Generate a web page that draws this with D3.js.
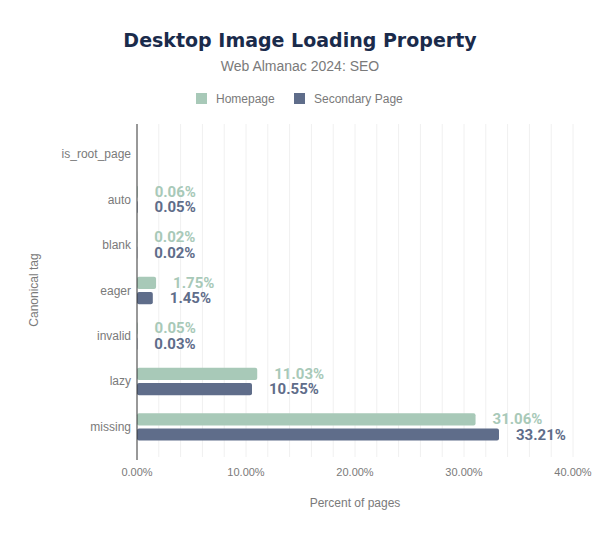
<!DOCTYPE html>
<html>
<head>
<meta charset="utf-8">
<script src="https://cdn.jsdelivr.net/npm/d3@7"></script>
<style>
    body { margin: 0; background: #fff; }
    text { font-family: "Liberation Sans", Arial, sans-serif; }
</style>
</head>
<body>
<div id="chart"></div>
<script>
const categories = ['is_root_page', 'auto', 'blank', 'eager', 'invalid', 'lazy', 'missing'];
const series = ['Homepage', 'Secondary Page'];
const homepage = [0, 0.06, 0.02, 1.75, 0.05, 11.03, 31.06];
const secondary = [0, 0.05, 0.02, 1.45, 0.03, 10.55, 33.21];
const xTicks = [0, 10, 20, 30, 40];
const colors = ['#a8c9b8', '#5f6d8a'];

function createChart() {
    const width = 600;
    const height = 538;

    const svg = d3.select('#chart')
        .append('svg')
        .attr('width', width)
        .attr('height', height);

    // Title and subtitle
    svg.append('text')
        .attr('x', 300).attr('y', 47)
        .attr('text-anchor', 'middle')
        .style('font-family', '"DejaVu Sans", sans-serif')
        .style('font-weight', 'bold')
        .style('font-size', '19px')
        .attr('fill', '#1a2b4b')
        .text('Desktop Image Loading Property');

    svg.append('text')
        .attr('x', 300).attr('y', 71)
        .attr('text-anchor', 'middle')
        .style('font-size', '14px')
        .attr('fill', '#7a7a7a')
        .text('Web Almanac 2024: SEO');

    // Legend
    const legend = svg.append('g');
    const legendX = [196, 294];
    series.forEach((s, i) => {
        legend.append('rect')
            .attr('x', legendX[i]).attr('y', 93)
            .attr('width', 11).attr('height', 11)
            .attr('fill', colors[i]);
        legend.append('text')
            .attr('x', legendX[i] + 20).attr('y', 103)
            .style('font-size', '12px')
            .attr('fill', '#7a7a7a')
            .text(s);
    });

    // Scales
    const x = d3.scaleLinear().domain([0, 40]).range([137, 573]);
    const y = d3.scaleBand().domain(categories).range([124, 457])
        .paddingInner(0.4).paddingOuter(0.36);
    const y1 = d3.scaleBand().domain(series).range([0, y.bandwidth()]).paddingInner(0.2);

    // Grid lines every 2%
    svg.append('g')
        .selectAll('line')
        .data(d3.range(2, 41, 2))
        .join('line')
        .attr('x1', d => x(d)).attr('x2', d => x(d))
        .attr('y1', 124).attr('y2', 457)
        .attr('stroke', '#f0f0f0')
        .attr('stroke-width', 1);

    // X axis labels
    svg.append('g')
        .selectAll('text')
        .data(xTicks)
        .join('text')
        .attr('x', d => x(d)).attr('y', 476)
        .attr('text-anchor', 'middle')
        .style('font-size', '11px')
        .attr('fill', '#7a7a7a')
        .text(d => d.toFixed(2) + '%');

    svg.append('text')
        .attr('x', 355).attr('y', 507)
        .attr('text-anchor', 'middle')
        .style('font-size', '12px')
        .attr('fill', '#7a7a7a')
        .text('Percent of pages');

    // Y labels
    svg.append('g')
        .selectAll('text')
        .data(categories)
        .join('text')
        .attr('x', 131)
        .attr('y', d => y(d) + y.bandwidth() / 2 + 4)
        .attr('text-anchor', 'end')
        .style('font-size', '12px')
        .attr('fill', '#7a7a7a')
        .text(d => d);

    svg.append('text')
        .attr('transform', 'translate(38,290) rotate(-90)')
        .attr('text-anchor', 'middle')
        .style('font-size', '12px')
        .attr('fill', '#7a7a7a')
        .text('Canonical tag');

    // Bars
    const rows = categories.map((c, i) => ({ cat: c, values: [homepage[i], secondary[i]] }));

    const groups = svg.append('g')
        .selectAll('g')
        .data(rows)
        .join('g')
        .attr('transform', d => `translate(0,${y(d.cat)})`);

    groups.selectAll('rect')
        .data(d => d.values.map((v, i) => ({ v, i })))
        .join('rect')
        .attr('x', x(0))
        .attr('y', d => y1(series[d.i]))
        .attr('width', d => x(d.v) - x(0))
        .attr('height', y1.bandwidth())
        .attr('rx', 2)
        .attr('fill', d => colors[d.i]);

    groups.selectAll('text')
        .data(d => d.values.map((v, i) => ({ v, i })).filter(d => d.v > 0))
        .join('text')
        .attr('x', d => x(d.v) + 17)
        .attr('y', d => y1(series[d.i]) + y1.bandwidth() / 2 + 5)
        .style('font-family', 'Roboto, sans-serif')
        .style('font-size', '15px')
        .style('font-weight', 'bold')
        .attr('fill', d => colors[d.i])
        .text(d => d.v.toFixed(2) + '%');

    // Y axis line
    svg.append('line')
        .attr('x1', x(0)).attr('x2', x(0))
        .attr('y1', 124).attr('y2', 460)
        .attr('stroke', '#333')
        .attr('stroke-width', 1);
}

createChart();
</script>
</body>
</html>
